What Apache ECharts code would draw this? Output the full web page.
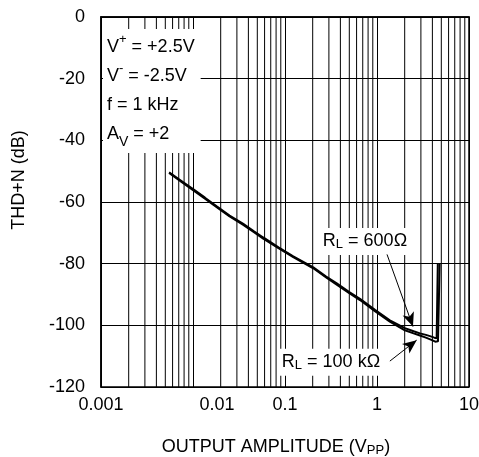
<!DOCTYPE html>
<html>
<head>
<meta charset="utf-8">
<script src="https://cdn.jsdelivr.net/npm/echarts@6/dist/echarts.min.js"></script>
<style>html,body{margin:0;padding:0;background:#fff}#c{width:479px;height:457px}</style>
</head>
<body>
<div id="c"></div>
<script>
// ---- data ----
const xTicks = [0.001, 0.01, 0.1, 1, 10];
const yTicks = [0, -20, -40, -60, -80, -100, -120];
const minorMultipliers = [2, 3, 4, 5, 6, 7, 8, 9];
const decades = [0.001, 0.01, 0.1, 1];

const amp600 = [0.0055, 0.0075, 0.0102, 0.0135, 0.0181, 0.025, 0.0352, 0.046, 0.058, 0.085, 0.123, 0.203, 0.28, 0.365, 0.5, 0.653, 0.95, 1.38, 2.01, 2.5, 2.93, 3.4, 3.77, 4.2, 4.45, 4.55, 4.58];
const thd600 = [-50.4, -53.2, -56.0, -58.6, -61.4, -64.4, -67.1, -69.5, -71.5, -74.7, -77.6, -81.2, -84.2, -86.4, -89.2, -91.4, -95.0, -98.4, -100.9, -101.9, -102.6, -103.1, -103.5, -104.0, -104.2, -103.6, -80];

const amp100k = [0.0055, 0.0075, 0.0102, 0.0135, 0.0181, 0.025, 0.0352, 0.046, 0.058, 0.085, 0.123, 0.203, 0.28, 0.365, 0.5, 0.653, 0.95, 1.38, 2.01, 2.5, 2.93, 3.4, 3.9, 4.3, 4.6, 4.78, 4.8];
const thd100k = [-50.6, -53.5, -56.3, -58.9, -61.7, -64.7, -67.4, -69.8, -71.9, -75.0, -77.9, -81.5, -84.5, -86.8, -89.6, -91.8, -95.4, -98.8, -101.6, -102.6, -103.3, -104.0, -104.7, -105.3, -105.2, -104.6, -80];

const label600 = [0.74, -72.8];
const arrow600 = [[1.285, -77.0], [2.46, -100.4]];
const label100k = [0.316, -112.0];
const arrow100k = [[1.38, -111.6], [2.7, -104.8]];

// ---- chart ----
const FONT = 'Liberation Sans, Arial, sans-serif';
const chart = echarts.init(document.getElementById('c'));
const yMin = yTicks[yTicks.length - 1], yMax = yTicks[0];
const minorGridData = [];
decades.forEach(d => minorMultipliers.forEach(m => {
  const v = +(d * m).toPrecision(3);
  minorGridData.push([v, yMin], [v, yMax], [v, '-']);
}));

const richR = {
  r: { fontFamily: FONT, fontSize: 18, color: '#000' },
  sub: { fontFamily: FONT, fontSize: 13, color: '#000', verticalAlign: 'bottom', padding: [6, 0, 0, 0] }
};

const option = {
  animation: false,
  backgroundColor: '#fff',
  grid: { left: 101, right: 10, top: 17, bottom: 70, outerBoundsMode: 'none',
    show: true, borderColor: '#000', borderWidth: 1.5, backgroundColor: 'transparent' },
  xAxis: {
    type: 'log', logBase: 10, min: xTicks[0], max: xTicks[xTicks.length - 1],
    axisLine: { show: true, lineStyle: { color: '#000', width: 1.5 } },
    axisTick: { show: false },
    splitLine: { show: true, lineStyle: { color: '#000', width: 1 } },
    axisLabel: {
      margin: 9, color: '#000', fontFamily: FONT, fontSize: 18,
      formatter: v => {
        if (Math.abs(v - 0.01) < 1e-9) return '{off|0.01}';
        if (v >= 1) return String(Math.round(v));
        return String(+v.toPrecision(1));
      },
      rich: { off: { fontFamily: FONT, fontSize: 18, color: '#000', padding: [0, 0, 0, 48] } }
    },
    name: 'OUTPUT AMPLITUDE (V{sub|PP})',
    nameLocation: 'middle', nameGap: 51,
    nameTextStyle: { color: '#000', fontFamily: FONT, fontSize: 18, padding: [0, 18, 0, 0],
      rich: { sub: { fontFamily: FONT, fontSize: 13, color: '#000', verticalAlign: 'bottom', padding: [6, 0, 0, 0] } } }
  },
  yAxis: {
    type: 'value', min: yMin, max: yMax, interval: 20,
    axisLine: { show: true, lineStyle: { color: '#000', width: 1.5 } },
    axisTick: { show: false },
    splitLine: { show: true, lineStyle: { color: '#000', width: 1 } },
    axisLabel: { margin: 16, color: '#000', fontFamily: FONT, fontSize: 18 },
    name: 'THD+N (dB)', nameLocation: 'middle', nameGap: 73, nameRotate: 90,
    nameTextStyle: { color: '#000', fontFamily: FONT, fontSize: 18, padding: [0, 0, 0, 44] }
  },
  series: [
    {
      name: 'minor grid', type: 'line', z: 1, silent: true, showSymbol: false, symbol: 'none',
      connectNulls: false, lineStyle: { color: '#000', width: 1 },
      data: minorGridData
    },
    {
      name: 'RL=600', type: 'line', z: 3, showSymbol: false, symbol: 'none',
      lineStyle: { color: '#000', width: 2 },
      data: amp600.map((x, i) => [x, thd600[i]])
    },
    {
      name: 'RL=100k', type: 'line', z: 3, showSymbol: false, symbol: 'none',
      lineStyle: { color: '#000', width: 2 },
      data: amp100k.map((x, i) => [x, thd100k[i]]),
      markPoint: {
        z: 10, symbol: 'circle', symbolSize: 0, silent: true,
        label: { show: true, position: 'inside', backgroundColor: '#fff', padding: [4, 4, 4, 4], rich: richR },
        data: [
          { coord: label600, label: { formatter: '{r|R}{sub|L}{r| = 600Ω}' } },
          { coord: label100k, label: { formatter: '{r|R}{sub|L}{r| = 100 kΩ}' } }
        ]
      },
      markLine: {
        z: 11, silent: true, symbol: ['none', 'arrow'], symbolSize: [9, 14], label: { show: false },
        lineStyle: { color: '#000', width: 1, type: 'solid' },
        data: [
          [{ coord: arrow600[0] }, { coord: arrow600[1] }],
          [{ coord: arrow100k[0] }, { coord: arrow100k[1] }]
        ]
      }
    }
  ],
  graphic: [
    {
      type: 'text', left: 103, top: 29, z: 100,
      style: {
        text: '{t|V}{sup|+}{t| = +2.5V}\n{t|V}{sup|-}{t| = -2.5V}\n{t|f = 1 kHz}\n{t|A}{sub|V}{t| = +2}',
        backgroundColor: '#fff', padding: [4, 6, 4, 4],
        rich: {
          t: { fontFamily: FONT, fontSize: 18, color: '#000', lineHeight: 29 },
          sup: { fontFamily: FONT, fontSize: 13, color: '#000', verticalAlign: 'top', lineHeight: 18 },
          sub: { fontFamily: FONT, fontSize: 14, color: '#000', verticalAlign: 'bottom', lineHeight: 20 }
        }
      }
    }
  ]
};
chart.setOption(option);
</script>
</body>
</html>
